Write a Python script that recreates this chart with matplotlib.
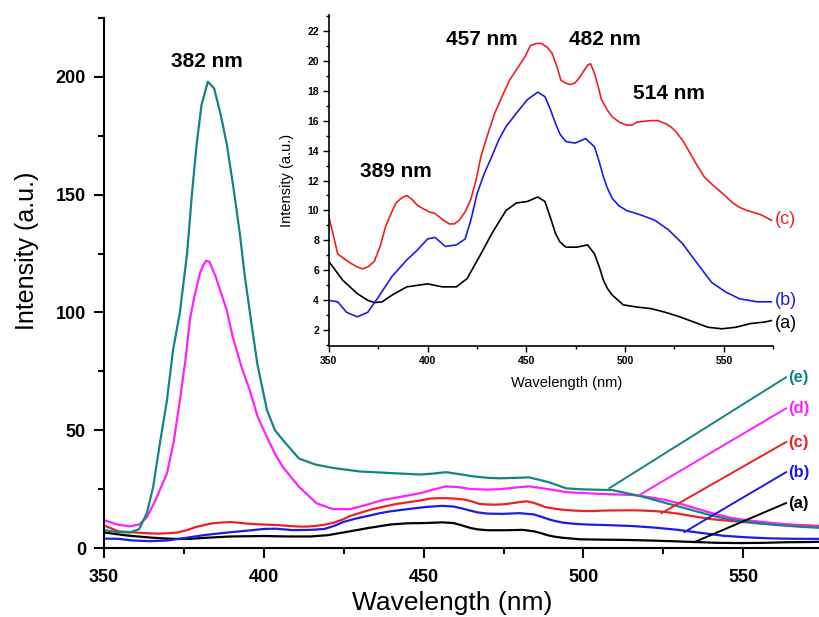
import matplotlib
matplotlib.use('Agg')
import matplotlib.pyplot as plt
from matplotlib.ticker import MultipleLocator

plt.rcParams['font.family'] = ['Liberation Sans', 'DejaVu Sans']

# (a) black
wl_a = [350, 357, 364.4, 369.7, 373, 377, 382, 389.5, 394.8, 400, 407.4, 414.6, 420, 427, 432.5,
        439.7, 445, 450.5, 455.8, 459.4, 462, 464.8, 467, 470, 475.6, 481, 484.5, 487, 489, 491,
        493.5, 499, 506, 513, 520.4, 527.6, 534.8, 542, 549, 556, 563.5, 570.7, 574]
int_a = [6.6, 5.35, 4.45, 4.0, 3.85, 3.9, 4.35, 4.9, 5.0, 5.1, 4.9, 4.9, 5.45, 7.1, 8.45,
         10.0, 10.5, 10.6, 10.9, 10.6, 9.6, 8.45, 7.9, 7.55, 7.55, 7.7, 7.1, 6.2, 5.35, 4.8,
         4.35, 3.7, 3.55, 3.45, 3.2, 2.9, 2.55, 2.2, 2.1, 2.2, 2.45, 2.55, 2.65]

# (b) blue
wl_b = [350, 354.5, 359, 364.4, 369.7, 375, 382, 389.5, 394.8, 400, 403.8, 409, 414.6, 419,
        422, 425, 428.5, 432.5, 436, 439.7, 445, 450.5, 455.8, 459.4, 462, 464.8, 467, 470,
        474.7, 480, 484.5, 487, 489, 491, 493.5, 497, 500.7, 507.9, 515, 522, 529, 536.6,
        543.8, 551, 558, 567, 574]
int_b = [4.0, 3.9, 3.2, 2.9, 3.2, 4.2, 5.6, 6.7, 7.35, 8.1, 8.2, 7.6, 7.7, 8.1,
         9.4, 11.1, 12.4, 13.6, 14.7, 15.6, 16.5, 17.4, 17.9, 17.6, 16.8, 15.8, 15.1, 14.6,
         14.5, 14.8, 14.25, 13.2, 12.25, 11.5, 10.8, 10.3, 10.0, 9.7, 9.35, 8.7, 7.8, 6.45,
         5.2, 4.55, 4.1, 3.9, 3.9]

# (c) red
wl_c = [350, 352, 354.5, 357.5, 360.8, 364, 367, 370, 373, 376, 378.7, 381.5, 384, 387, 389.5,
        392, 394.8, 398, 401, 403.8, 407.5, 411, 413.5, 416, 419, 421.8, 424.5, 427, 430.5,
        434, 438, 441.5, 444.5, 447, 449.5, 452, 455, 457.6, 460.5, 463, 465.5, 467.5, 470,
        472, 474.5, 476.5, 479, 481, 482.5, 484.5, 486.5, 488, 491, 493.5, 497, 500.7, 503.5,
        506, 509.5, 513, 516.5, 520.4, 523, 525.8, 529.5, 533, 536.5, 540, 543.5, 547, 550.5,
        554.5, 558, 561.7, 565.5, 569, 574]
int_c = [9.6, 8.5, 7.1, 6.8, 6.5, 6.25, 6.1, 6.25, 6.6, 7.6, 8.9, 9.8, 10.5, 10.85, 11.0,
         10.75, 10.35, 10.1, 9.9, 9.8, 9.4, 9.1, 9.1, 9.35, 9.9, 10.7, 12.0, 13.6, 15.1,
         16.5, 17.7, 18.7, 19.3, 19.8, 20.3, 21.0, 21.15, 21.15, 20.9, 20.5, 19.6, 18.7, 18.5,
         18.4, 18.5, 18.8, 19.3, 19.7, 19.8, 19.15, 18.2, 17.4, 16.7, 16.25, 15.9, 15.7, 15.7,
         15.9, 15.95, 16.0, 16.0, 15.8, 15.6, 15.25, 14.6, 13.8, 13.0, 12.25, 11.8, 11.4, 11.0,
         10.5, 10.2, 10.0, 9.85, 9.7, 9.35]

# (d) magenta
wl_d = [350, 354, 358, 361, 363.4, 366, 369.7, 371.8, 373.75, 375.5, 377, 378.5, 380, 381, 382,
        383, 385, 386.7, 388.4, 390.3, 393, 395.6, 398, 401, 403.5, 406, 411, 416.5, 421.6,
        427, 432, 437, 443, 449, 453, 457, 461, 465, 470, 474, 479, 483, 489, 494.7, 505,
        515.5, 521, 526, 531, 536, 541, 546.6, 553, 560, 567, 575]
int_d = [11.9, 10.0, 9.2, 10.0, 13, 20, 31.7, 45, 62.7, 80, 98, 108, 116.5, 120, 122,
         121.5, 115, 108, 101, 89.5, 77, 67, 56, 47, 40, 34.3, 26, 19, 16.5,
         16.5, 18.3, 20.3, 21.8, 23.3, 24.8, 26.2, 25.8, 25, 24.8, 25, 25.7, 26.2, 25, 23.7, 23,
         22.5, 21.5, 20.3, 18.5, 16.5, 14.5, 12.7, 11.5, 10.5, 9.7, 9]

# (e) teal
wl_e = [350, 354, 358, 361, 363.4, 365.4, 367.5, 369.7, 371.6, 373.75, 376, 377.5, 379, 380.5,
        382.5, 384.5, 386.5, 388.4, 390.5, 392.5, 394, 396, 398, 401, 403.5, 406, 411, 416,
        421.6, 430, 440, 449, 453, 457, 461, 465, 470, 474, 479, 483, 489, 494.7, 500, 509,
        518, 526, 531, 536, 541, 546.6, 553, 560, 567, 575]
int_e = [7.6, 6.8, 6.6, 8, 14.8, 26, 44.5, 62.7, 84, 100, 125, 150, 171.6, 188,
         198, 195, 184, 171.6, 153, 133.5, 116, 96.6, 78, 58.5, 50, 45.8, 38, 35.5,
         34, 32.5, 31.8, 31.2, 31.6, 32.2, 31.4, 30.5, 29.8, 29.6, 29.8, 30, 28, 25.3, 24.9, 24.6,
         22, 19, 17.2, 15.3, 13.5, 11.9, 10.8, 9.8, 9.1, 8.5]

col_a, col_b, col_c = 'black', '#1c1ce8', '#ee2020'
col_d, col_e = '#ff20ff', '#138580'

# leader lines: (start on curve) -> (label)
leaders = {
    '(e)': ((508.1, 25.4), (563.4, 72.5), col_e),
    '(d)': ((517.5, 22.5), (563.4, 59.3), col_d),
    '(c)': ((524.4, 14.8), (563.4, 45.0), col_c),
    '(b)': ((531.6, 6.8), (563.4, 32.2), col_b),
    '(a)': ((534.7, 2.5), (563.4, 19.1), col_a),
}

fig = plt.figure(figsize=(8.2, 6.17), dpi=100)
ax = fig.add_axes([0.1268, 0.1118, 0.8732, 0.859])

ax.plot(wl_a, int_a, color=col_a, lw=1.6)
ax.plot(wl_b, int_b, color=col_b, lw=1.6)
ax.plot(wl_c, int_c, color=col_c, lw=1.6)
ax.plot(wl_d, int_d, color=col_d, lw=1.6)
ax.plot(wl_e, int_e, color=col_e, lw=1.6)

for lab, (p0, p1, c) in leaders.items():
    ax.plot([p0[0], p1[0]], [p0[1], p1[1]], color=c, lw=1.4)
    ax.text(p1[0] + 0.5, p1[1], lab, color=c, fontsize=12, fontweight='bold',
            ha='left', va='center', clip_on=False)

ax.text(382.2, 206.4, '382 nm', fontsize=15, fontweight='bold', ha='center', va='center')

ax.set_xlim(350, 574)
ax.set_ylim(0, 225)
ax.spines['top'].set_visible(False)
ax.spines['right'].set_visible(False)
for s in ['left', 'bottom']:
    ax.spines[s].set_linewidth(1.5)
ax.xaxis.set_major_locator(MultipleLocator(50))
ax.xaxis.set_minor_locator(MultipleLocator(25))
ax.yaxis.set_major_locator(MultipleLocator(50))
ax.yaxis.set_minor_locator(MultipleLocator(25))
ax.tick_params(which='major', direction='out', length=7, width=1.5, labelsize=13, pad=6)
ax.tick_params(which='minor', direction='out', length=4, width=1.5)
ax.tick_params(axis='x', which='major', pad=8)
for t in ax.get_xticklabels() + ax.get_yticklabels():
    t.set_fontweight('bold')

ax.set_xlabel('Wavelength (nm)', fontsize=19)
ax.set_ylabel('Intensity (a.u.)', fontsize=18)
ax.xaxis.label.set_va('center')
ax.yaxis.label.set_va('center')
ax.xaxis.set_label_coords(0.486, -0.104)
ax.yaxis.set_label_coords(-0.1075, 0.56)

# inset
ins = fig.add_axes([0.401, 0.4392, 0.542, 0.5365])
ins.patch.set_alpha(0)
ins.plot(wl_a, int_a, color=col_a, lw=1.2)
ins.plot(wl_b, int_b, color=col_b, lw=1.2)
ins.plot(wl_c, int_c, color=col_c, lw=1.2)
ins.set_xlim(350, 575)
ins.set_ylim(0.95, 23.05)
ins.spines['top'].set_visible(False)
ins.spines['right'].set_visible(False)
for s in ['left', 'bottom']:
    ins.spines[s].set_linewidth(1.2)
ins.xaxis.set_major_locator(MultipleLocator(50))
ins.xaxis.set_minor_locator(MultipleLocator(25))
ins.yaxis.set_major_locator(MultipleLocator(2))
ins.yaxis.set_minor_locator(MultipleLocator(1))
ins.tick_params(which='major', direction='out', length=4, width=1.0, labelsize=7.5, pad=3)
ins.tick_params(which='minor', direction='out', length=2, width=1.0)
for t in ins.get_xticklabels() + ins.get_yticklabels():
    t.set_fontweight('bold')
ins.set_xlabel('Wavelength (nm)', fontsize=10.5)
ins.set_ylabel('Intensity (a.u.)', fontsize=10.5)
ins.xaxis.label.set_va('center')
ins.yaxis.label.set_va('center')
ins.xaxis.set_label_coords(0.534, -0.112)
ins.yaxis.set_label_coords(-0.095, 0.5)

for txt, x, y in [('457 nm', 427.7, 21.4), ('482 nm', 489.6, 21.4),
                  ('514 nm', 522.2, 17.8), ('389 nm', 383.7, 12.6)]:
    ins.text(x, y, txt, fontsize=15, fontweight='bold', ha='center', va='center')

for lab, y, c in [('(c)', 9.4, col_c), ('(b)', 4.0, col_b), ('(a)', 2.45, col_a)]:
    ins.text(575.8, y, lab, color=c, fontsize=13, ha='left', va='center', clip_on=False)

fig.savefig('out.png', dpi=100)
